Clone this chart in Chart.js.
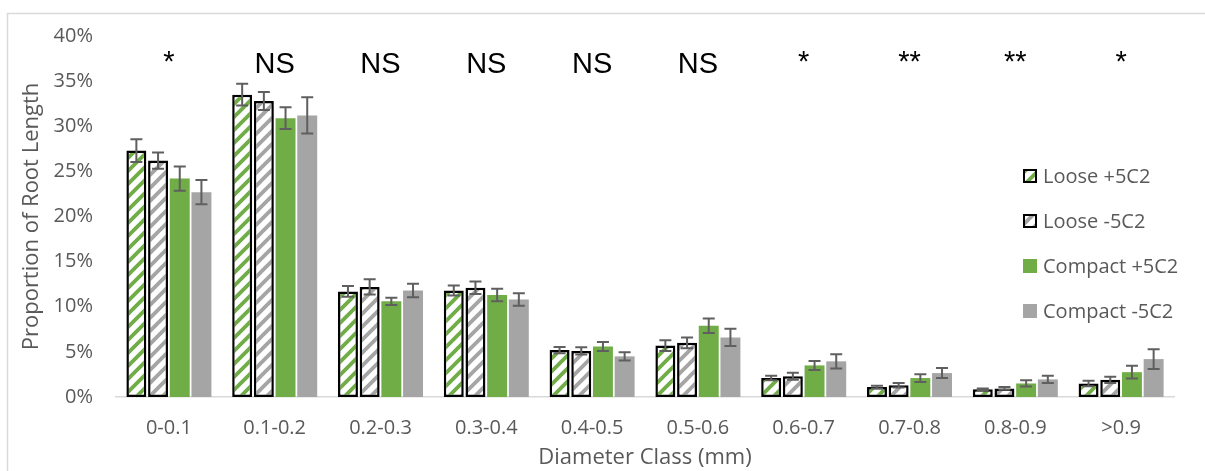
<!DOCTYPE html>
<html>
<head>
<meta charset="utf-8">
<script src="https://cdn.jsdelivr.net/npm/chart.js@4/dist/chart.umd.min.js"></script>
<style>
  html, body { margin: 0; padding: 0; background: #fff; }
  canvas { display: block; }
</style>
</head>
<body>
<canvas id="c" width="1205" height="471"></canvas>
<script>
// Diameter classes (mm)
const categories = ['0-0.1', '0.1-0.2', '0.2-0.3', '0.3-0.4', '0.4-0.5', '0.5-0.6', '0.6-0.7', '0.7-0.8', '0.8-0.9', '>0.9'];

// Proportion of root length (%) per treatment
const loosePlus    = [27.3, 33.5, 11.7, 11.8, 5.2, 5.7, 2.1, 1.1, 0.85, 1.5];
const looseMinus   = [26.2, 32.8, 12.2, 12.1, 5.1, 6.0, 2.3, 1.3, 0.95, 1.9];
const compactPlus  = [24.2, 30.9, 10.6, 11.3, 5.6, 7.9, 3.5, 2.1, 1.5, 2.75];
const compactMinus = [22.7, 31.2, 11.8, 10.8, 4.5, 6.6, 3.95, 2.65, 1.95, 4.2];

// Standard errors (%)
const loosePlusErr    = [1.25, 1.2, 0.6, 0.55, 0.35, 0.6, 0.25, 0.15, 0.1, 0.3];
const looseMinusErr   = [0.9, 1.0, 0.85, 0.7, 0.4, 0.6, 0.4, 0.25, 0.15, 0.35];
const compactPlusErr  = [1.35, 1.2, 0.4, 0.7, 0.5, 0.8, 0.5, 0.43, 0.35, 0.7];
const compactMinusErr = [1.35, 2.0, 0.75, 0.7, 0.45, 0.95, 0.8, 0.55, 0.4, 1.1];

// Significance of treatment effect per class
const sigLabels = ['*', 'NS', 'NS', 'NS', 'NS', 'NS', '*', '**', '**', '*'];

// Y axis tick values (%)
const yTicks = [0, 5, 10, 15, 20, 25, 30, 35, 40];

const GREEN = '#70ad47';
const GREY = '#a5a5a5';
const TEXT = '#595959';

function makeHatch(color) {
  const s = 13;
  const cv = document.createElement('canvas');
  cv.width = s; cv.height = s;
  const g = cv.getContext('2d');
  g.fillStyle = '#fff';
  g.fillRect(0, 0, s, s);
  g.strokeStyle = color;
  g.lineWidth = 3.8;
  g.beginPath();
  g.moveTo(-3, 3); g.lineTo(3, -3);
  g.moveTo(0, s); g.lineTo(s, 0);
  g.moveTo(s - 3, s + 3); g.lineTo(s + 3, s - 3);
  g.stroke();
  return document.getElementById('c').getContext('2d').createPattern(cv, 'repeat');
}

const hatchGreen = makeHatch(GREEN);
const hatchGrey = makeHatch(GREY);

const datasets = [
  { label: 'Loose +5C2', data: loosePlus, err: loosePlusErr, backgroundColor: hatchGreen, borderColor: '#000', borderWidth: 2.5, legendFill: hatchGreen, legendBorder: true },
  { label: 'Loose -5C2', data: looseMinus, err: looseMinusErr, backgroundColor: hatchGrey, borderColor: '#000', borderWidth: 2.5, legendFill: hatchGrey, legendBorder: true },
  { label: 'Compact +5C2', data: compactPlus, err: compactPlusErr, backgroundColor: GREEN, borderWidth: 0, legendFill: GREEN, legendBorder: false },
  { label: 'Compact -5C2', data: compactMinus, err: compactMinusErr, backgroundColor: GREY, borderWidth: 0, legendFill: GREY, legendBorder: false }
];

// White background and light outer frame
const framePlugin = {
  id: 'frame',
  beforeDraw(chart) {
    const ctx = chart.ctx;
    ctx.save();
    ctx.fillStyle = '#fff';
    ctx.fillRect(0, 0, chart.width, chart.height);
    ctx.strokeStyle = '#d9d9d9';
    ctx.lineWidth = 1.5;
    ctx.beginPath();
    ctx.moveTo(7.5, chart.height);
    ctx.lineTo(7.5, 13.5);
    ctx.lineTo(chart.width, 13.5);
    ctx.stroke();
    ctx.restore();
  }
};

// Error bars with caps
const errorBarPlugin = {
  id: 'errorBars',
  afterDatasetsDraw(chart) {
    const ctx = chart.ctx;
    const y = chart.scales.y;
    ctx.save();
    ctx.strokeStyle = '#5f5f5f';
    ctx.lineWidth = 2;
    chart.data.datasets.forEach((ds, i) => {
      const meta = chart.getDatasetMeta(i);
      meta.data.forEach((bar, j) => {
        const v = ds.data[j], e = ds.err[j];
        const yt = y.getPixelForValue(v + e);
        const yb = y.getPixelForValue(v - e);
        const x = bar.x, cap = 6;
        ctx.beginPath();
        ctx.moveTo(x, yt); ctx.lineTo(x, yb);
        ctx.moveTo(x - cap, yt); ctx.lineTo(x + cap, yt);
        ctx.moveTo(x - cap, yb); ctx.lineTo(x + cap, yb);
        ctx.stroke();
      });
    });
    ctx.restore();
  }
};

// Significance labels above each class, plus the legend inside the plot
const annotatePlugin = {
  id: 'annotate',
  afterDraw(chart) {
    const ctx = chart.ctx;
    const x = chart.scales.x;
    ctx.save();
    ctx.fillStyle = '#000';
    ctx.font = '29px "Liberation Sans", Arial, sans-serif';
    ctx.textAlign = 'center';
    ctx.textBaseline = 'alphabetic';
    sigLabels.forEach((s, i) => {
      ctx.fillText(s, x.getPixelForValue(i), s === 'NS' ? 73 : 71);
    });

    const lx = 1023, ly0 = 176, step = 45, box = 14;
    ctx.font = '20px "Open Sans", sans-serif';
    ctx.textAlign = 'left';
    ctx.textBaseline = 'middle';
    chart.data.datasets.forEach((ds, i) => {
      const cy = ly0 + i * step;
      ctx.fillStyle = ds.legendFill;
      ctx.fillRect(lx, cy - box / 2, box, box);
      if (ds.legendBorder) {
        ctx.strokeStyle = '#000';
        ctx.lineWidth = 2;
        ctx.strokeRect(lx + 1, cy - box / 2 + 1, box - 2, box - 2);
      }
      ctx.fillStyle = TEXT;
      ctx.fillText(ds.label, lx + 20, cy + 1);
    });
    ctx.restore();
  }
};

new Chart(document.getElementById('c'), {
  type: 'bar',
  data: { labels: categories, datasets },
  options: {
    responsive: false,
    animation: false,
    devicePixelRatio: 1,
    layout: { padding: { left: 0, right: 31, top: 36, bottom: 0 } },
    datasets: {
      bar: { categoryPercentage: 0.82, barPercentage: 0.92, borderSkipped: false }
    },
    plugins: {
      legend: { display: false },
      tooltip: { enabled: false }
    },
    scales: {
      x: {
        grid: { display: false, drawTicks: false },
        border: { display: true, color: '#d9d9d9', width: 1.5 },
        ticks: { color: TEXT, font: { family: 'Open Sans', size: 20 }, padding: 19, maxRotation: 0 },
        title: { display: true, text: 'Diameter Class (mm)', color: TEXT, font: { family: 'Open Sans', size: 22 }, padding: { top: 0, bottom: 0 } },
        afterFit(s) { s.height = 74; }
      },
      y: {
        min: 0, max: 40,
        afterBuildTicks(s) { s.ticks = yTicks.map(v => ({ value: v })); },
        grid: { display: false, drawTicks: false },
        border: { display: false },
        ticks: { color: TEXT, font: { family: 'Open Sans', size: 20 }, padding: 23, callback: v => v + '%' },
        title: { display: true, text: 'Proportion of Root Length', color: TEXT, font: { family: 'Open Sans', size: 22 }, padding: { top: 19, bottom: 0 } },
        afterFit(s) { s.width = 116; }
      }
    }
  },
  plugins: [framePlugin, errorBarPlugin, annotatePlugin]
});
</script>
</body>
</html>
